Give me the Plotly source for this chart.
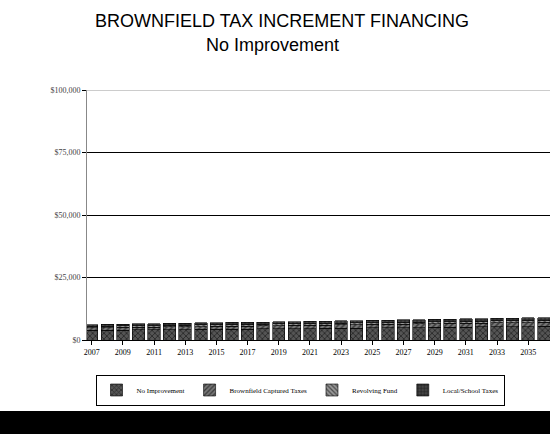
import plotly.graph_objects as go

years = [str(y) for y in range(2007, 2037)]
no_improvement = [3900, 3950, 4000, 4050, 4100, 4150, 4200, 4250, 4300, 4350,
                  4400, 4450, 4500, 4550, 4600, 4700, 4750, 4800, 4850, 4900,
                  4950, 5000, 5100, 5150, 5200, 5250, 5300, 5350, 5400, 5500]
brownfield_captured = [1000, 1020, 1040, 1060, 1080, 1100, 1120, 1140, 1160, 1180,
                       1200, 1220, 1240, 1260, 1280, 1300, 1320, 1340, 1360, 1380,
                       1400, 1420, 1440, 1460, 1480, 1500, 1520, 1540, 1560, 1580]
revolving_fund = [550, 560, 570, 580, 590, 600, 610, 620, 630, 640,
                  650, 660, 670, 680, 690, 700, 710, 720, 730, 740,
                  750, 760, 770, 780, 790, 800, 810, 820, 830, 840]
local_school = [750, 760, 770, 780, 790, 800, 810, 820, 830, 840,
                850, 860, 870, 880, 890, 900, 910, 920, 930, 940,
                950, 960, 970, 980, 990, 1000, 1010, 1020, 1030, 1040]
series_names = ["No Improvement", "Brownfield Captured Taxes", "Revolving Fund", "Local/School Taxes"]
y_ticks = [0, 25000, 50000, 75000, 100000]
y_tick_labels = ["$0", "$25,000", "$50,000", "$75,000", "$100,000"]

fills = ["#555555", "#777777", "#999999", "#444444"]
patterns = ["x", "/", "\\", "+"]
data = [no_improvement, brownfield_captured, revolving_fund, local_school]

fig = go.Figure()
for name, vals, col, pat in zip(series_names, data, fills, patterns):
    fig.add_trace(go.Bar(
        x=years, y=vals, name=name,
        marker=dict(color=col, line=dict(color="black", width=0.6),
                    pattern=dict(shape=pat, fgcolor="black", bgcolor=col, size=4, solidity=0.4)),
    ))

plot_l, plot_t, plot_w, plot_h = 87, 90, 463, 250

def px_to_paper(px, py):
    return (px - plot_l) / plot_w, (plot_t + plot_h - py) / plot_h

lx, ly = px_to_paper(300, 390)

fig.update_layout(
    barmode="stack",
    bargap=0.2,
    width=550, height=434,
    margin=dict(l=plot_l, r=550 - plot_l - plot_w, t=plot_t, b=434 - plot_t - plot_h),
    paper_bgcolor="white", plot_bgcolor="white",
    font=dict(family="Liberation Serif, serif", size=8, color="black"),
    showlegend=True,
    legend=dict(orientation="h", x=lx, xanchor="center", y=ly, yanchor="middle",
                traceorder="normal",
                bordercolor="black", borderwidth=1, font=dict(size=7, color="black"),
                itemwidth=30, tracegroupgap=0),
    xaxis=dict(type="category", range=[-0.3, 29.4],
               tickmode="array", tickvals=years[::2], ticktext=years[::2],
               ticks="outside", ticklen=4, tickcolor="black",
               showline=True, linecolor="black", linewidth=1,
               showgrid=False, tickfont=dict(size=8, color="black")),
    yaxis=dict(range=[0, 100000], tickmode="array", tickvals=y_ticks, ticktext=y_tick_labels,
               ticks="outside", ticklen=4, tickcolor="black",
               showline=True, linecolor="#888888", linewidth=1,
               showgrid=True, gridcolor="black", gridwidth=1.2,
               zeroline=False, tickfont=dict(size=8, color="#444444")),
)

tx, ty = px_to_paper(282, 21)
fig.add_annotation(text="BROWNFIELD TAX INCREMENT FINANCING", x=tx, y=ty, xref="paper", yref="paper",
                   xanchor="center", yanchor="middle",
                   showarrow=False, font=dict(family="Liberation Sans, Arial, sans-serif", size=18, color="black"))
tx, ty = px_to_paper(272, 45)
fig.add_annotation(text="No Improvement", x=tx, y=ty, xref="paper", yref="paper",
                   xanchor="center", yanchor="middle",
                   showarrow=False, font=dict(family="Liberation Sans, Arial, sans-serif", size=18, color="black"))
# thin grey top line of the back wall
fig.add_shape(type="line", xref="paper", yref="y", x0=0, x1=1, y0=100000, y1=100000,
              line=dict(color="#999999", width=1))
# black band at the bottom of the page
x0, y0 = px_to_paper(0, 434)
x1, y1 = px_to_paper(550, 411)
fig.add_shape(type="rect", xref="paper", yref="paper", x0=x0, x1=x1, y0=y0, y1=y1,
              fillcolor="black", line=dict(width=0), layer="above")

fig.write_html("out.html")
